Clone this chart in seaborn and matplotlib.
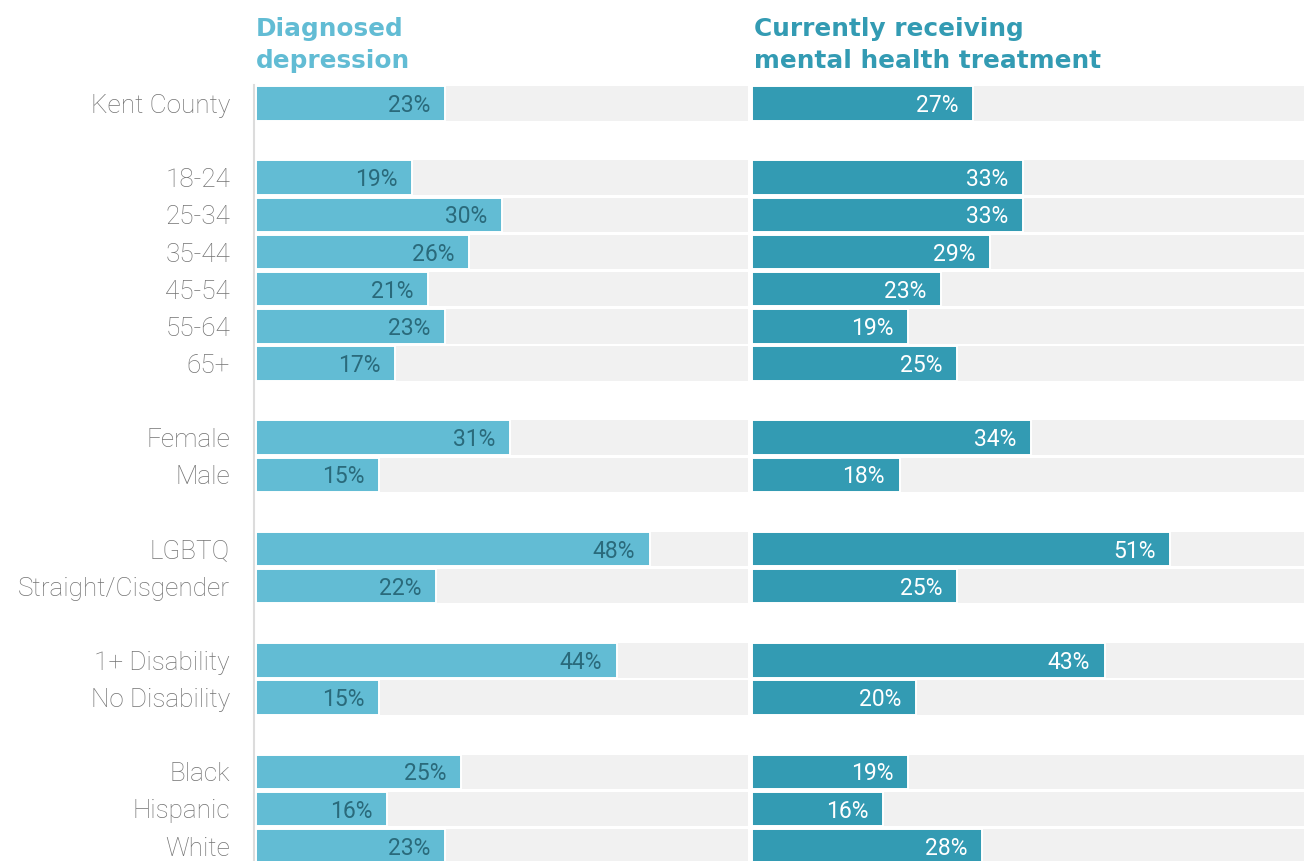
import numpy as np
import pandas as pd
import matplotlib.pyplot as plt
import seaborn as sns

sns.set_theme(style="white")
plt.rcParams["font.family"] = ["Roboto", "DejaVu Sans"]

# data
groups = ["Kent County", "18-24", "25-34", "35-44", "45-54", "55-64", "65+",
          "Female", "Male", "LGBTQ", "Straight/Cisgender",
          "1+ Disability", "No Disability", "Black", "Hispanic", "White"]
depression = [23, 19, 30, 26, 21, 23, 17, 31, 15, 48, 22, 44, 15, 25, 16, 23]
treatment = [27, 33, 33, 29, 23, 19, 25, 34, 18, 51, 25, 43, 20, 19, 16, 28]
breaks_after = ["Kent County", "65+", "Male", "Straight/Cisgender", "No Disability"]

titles = ["Diagnosed\ndepression", "Currently receiving\nmental health treatment"]

LIGHT = "#62bcd4"
DARK = "#339bb3"
BG = "#f1f1f1"

# row order with empty spacer rows between the groups
order = []
for g in groups:
    order.append(g)
    if g in breaks_after:
        order.append(" " * (len(order)))

W, H = 1304, 861
fig = plt.figure(figsize=(W / 100, H / 100), dpi=100)

row_px = 37.13
top_px = 103.5 - row_px / 2
bot_px = top_px + row_px * len(order)
ax_b = 1 - bot_px / H
ax_h = (bot_px - top_px) / H

ax1 = fig.add_axes([254.4 / W, ax_b, 493.6 / W, ax_h])
ax2 = fig.add_axes([752 / W, ax_b, 552 / W, ax_h])


def draw_panel(ax, values, color, label_color, xmin, xmax, title):
    df = pd.DataFrame({"group": groups, "value": values, "bg": xmax})
    sns.barplot(data=df, y="group", x="bg", order=order, color=BG, saturation=1,
                width=0.93, linewidth=0, ax=ax)
    sns.barplot(data=df, y="group", x="value", order=order, color=color, saturation=1,
                width=0.93, edgecolor="white", linewidth=1.4, ax=ax)
    for g, v in zip(groups, values):
        ax.annotate(f"{v}%", xy=(v, order.index(g)), xytext=(-10.5, -1.5),
                    textcoords="offset points", ha="right", va="center",
                    fontsize=16.5, color=label_color)
    ax.set_xlim(xmin, xmax)
    ax.set_ylim(len(order) - 0.5, -0.5)
    ax.set_xlabel("")
    ax.set_ylabel("")
    ax.set_xticks([])
    ax.grid(False)
    for s in ["top", "right", "bottom", "left"]:
        ax.spines[s].set_visible(False)
    ax.text(0.003, 1 + 11.5 / (bot_px - top_px), title, transform=ax.transAxes,
            ha="left", va="bottom", fontsize=17.8, fontweight="bold",
            family=["DejaVu Sans"], color=color, linespacing=1.42)


draw_panel(ax1, depression, LIGHT, "#2a6a7b", -0.2, 60, titles[0])
draw_panel(ax2, treatment, DARK, "white", 0, 67.3, titles[1])

ax1.spines["left"].set_visible(True)
ax1.spines["left"].set_color("#dcdcdc")
ax1.spines["left"].set_linewidth(1.5)
ax1.tick_params(axis="y", length=0, pad=17.5, labelsize=18.8, labelcolor="#737373")
for t in ax1.get_yticklabels():
    t.set_fontweight("light")
ax2.set_yticks([])

fig.savefig("out.png", dpi=100)
